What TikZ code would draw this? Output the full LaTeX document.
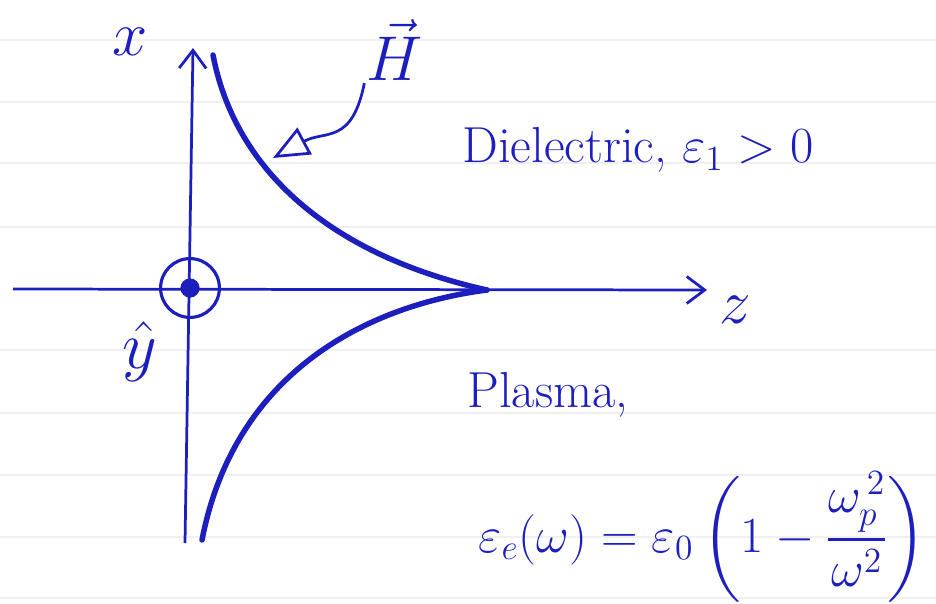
\documentclass[tikz,border=0pt]{standalone}
\usepackage{fix-cm}
\usepackage{amsmath}
\usetikzlibrary{arrows.meta}
\definecolor{ink}{RGB}{28,30,190}
\begin{document}
\begin{tikzpicture}[x=0.016667cm, y=-0.016667cm,
  axis/.style={ink, line width=1.3pt},
  curve/.style={ink, line width=2.6pt, line cap=round},
  lbl/.style={text=ink, inner sep=1pt},
  barb/.style={-{Straight Barb[length=0.3cm,width=0.45cm,line width=1.3pt]}}]
  \useasboundingbox (0,0) rectangle (936,603);
  % ruled paper
  \foreach \yy in {40,102,163,227,350,413,475,537,598}
    \draw[black!6, line width=0.8pt] (0,\yy) -- (936,\yy);
  % axes
  \coordinate (xbot) at (185,543);
  \coordinate (xtop) at (193,48);
  \coordinate (zleft) at (13,289);
  \coordinate (ztip) at (707,290);
  \draw[axis, barb] (xbot) -- (xtop);
  \draw[axis, barb] (zleft) -- (ztip);
  % y out of the page
  \node[draw=ink, line width=1.5pt, circle, minimum size=0.98cm] (yout) at (190,288) {};
  \node[fill=ink, circle, minimum size=0.32cm, inner sep=0pt] (ydot) at (yout.center) {};
  % field profile
  \coordinate (cusp) at (487,290);
  \draw[curve] (213,55) .. controls (235,170) and (330,255) .. (cusp);
  \draw[curve] (cusp) .. controls (370,305) and (235,370) .. (202,540);
  % labels
  \node[lbl, font=\fontsize{30}{32}\selectfont] (xlab) at (130,42) {$x$};
  \node[lbl, font=\fontsize{32}{34}\selectfont] (ylab) at (140,352) {$\hat{y}$};
  \node[lbl, font=\fontsize{30}{32}\selectfont] (zlab) at (735,310) {$z$};
  \node[lbl, font=\fontsize{30}{32}\selectfont] (Hlab) at (395,50) {$\vec{H}$};
  \draw[ink, line width=1.3pt, -{Triangle[open, length=0.6cm, width=0.5cm, line width=1.3pt]}] (Hlab.south west) .. controls (352,145) and (325,130) .. (273,158);
  \node[lbl, anchor=west, font=\fontsize{24}{28}\selectfont] (diel) at (460,150) {Dielectric, $\varepsilon_1 > 0$};
  \node[lbl, anchor=west, font=\fontsize{24}{28}\selectfont] (plasma) at (465,395) {Plasma,};
  \node[lbl, anchor=west, font=\fontsize{24}{28}\selectfont] (epsform) at (476,537) {$\varepsilon_e(\omega) = \varepsilon_0 \left(1 - \dfrac{\omega_p^{\,2}}{\omega^2}\right)$};
\end{tikzpicture}
\end{document}
